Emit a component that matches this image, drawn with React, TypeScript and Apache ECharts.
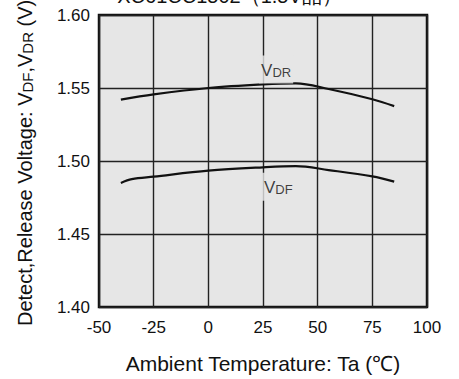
import React, { useEffect, useRef } from "react";
import * as echarts from "echarts";

// Release voltage VDR (V) against ambient temperature (°C)
const tempsDR = [-40, -25, 0, 25, 40, 55, 75, 85];
const vdr = [1.5420, 1.5456, 1.5500, 1.5525, 1.5532, 1.5493, 1.5423, 1.5376];
// Detect voltage VDF (V) against ambient temperature (°C)
const tempsDF = [-40, -35, -25, 0, 25, 40, 55, 75, 85];
const vdf = [1.4850, 1.4876, 1.4893, 1.4934, 1.4957, 1.4965, 1.4938, 1.4895, 1.4859];

const xTicks = [-50, -25, 0, 25, 50, 75, 100];
const yTicks = [1.4, 1.45, 1.5, 1.55, 1.6];

// Curve label anchors [temperature, voltage]
const vdrLabelAt = [31, 1.5626];
const vdfLabelAt = [32, 1.4823];

const FONT = "Liberation Sans, Arial, sans-serif";
const PLOT_BG = "#e6e6e6";
const INK = "#111";

export default function App() {
  const ref = useRef<HTMLDivElement>(null);

  useEffect(() => {
    if (!ref.current) return;
    const chart = echarts.init(ref.current, null, { renderer: "svg" });

    const pairs = (xs: number[], ys: number[]) => xs.map((t, i) => [t, ys[i]]);
    const subRich = {
      v: { fontFamily: FONT, fontSize: 17, color: INK },
      s: { fontFamily: FONT, fontSize: 13, color: INK, verticalAlign: "bottom" as const },
    };
    const curveLabel = (name: string, sub: string, at: number[]) => ({
      type: "scatter" as const,
      data: [at],
      symbolSize: 0,
      silent: true,
      z: 5,
      label: {
        show: true,
        position: "inside" as const,
        formatter: `{v|V}{s|${sub}}`,
        backgroundColor: PLOT_BG,
        padding: [6, 2, 5, 2],
        rich: subRich,
      },
      name,
    });
    const curve = (name: string, xs: number[], ys: number[]) => ({
      type: "line" as const,
      name,
      data: pairs(xs, ys),
      smooth: 0.35,
      showSymbol: false,
      lineStyle: { color: INK, width: 2.2 },
      z: 3,
    });

    chart.setOption({
      animation: false,
      graphic: [
        {
          type: "text",
          left: "center",
          top: -14,
          style: {
            text: "XC61CC1502（1.5V品）",
            fontFamily: FONT,
            fontSize: 20,
            fill: INK,
          },
        },
        {
          // vertical axis title, reading bottom to top
          type: "text",
          x: 25,
          y: 326,
          rotation: Math.PI / 2,
          style: {
            text: "{n|Detect,Release Voltage: V}{s|DF}{n|,V}{s|DR}{n| (V)}",
            align: "left",
            verticalAlign: "middle",
            rich: {
              n: { fontFamily: FONT, fontSize: 20, fill: INK },
              s: { fontFamily: FONT, fontSize: 15, fill: INK, verticalAlign: "bottom" },
            },
          },
        },
      ],
      grid: {
        left: 99,
        right: 32,
        top: 15,
        bottom: 70,
        show: true,
        backgroundColor: PLOT_BG,
        borderColor: INK,
        borderWidth: 2.5,
      },
      xAxis: {
        type: "value",
        min: xTicks[0],
        max: xTicks[xTicks.length - 1],
        interval: 25,
        name: "Ambient Temperature: Ta (℃)",
        nameLocation: "middle",
        nameGap: 46,
        nameTextStyle: { fontFamily: FONT, fontSize: 21, color: INK },
        axisLine: { show: false },
        axisTick: { show: false },
        axisLabel: { fontFamily: FONT, fontSize: 17, color: INK, margin: 12 },
        splitLine: { show: true, lineStyle: { color: "#222", width: 1.4 } },
      },
      yAxis: {
        type: "value",
        min: yTicks[0],
        max: yTicks[yTicks.length - 1],
        interval: 0.05,
        axisLine: { show: false },
        axisTick: { show: false },
        axisLabel: {
          fontFamily: FONT,
          fontSize: 17,
          color: INK,
          margin: 9,
          formatter: (v: number) => v.toFixed(2),
        },
        splitLine: { show: true, lineStyle: { color: "#222", width: 1.4 } },
      },
      series: [
        curve("VDR", tempsDR, vdr),
        curve("VDF", tempsDF, vdf),
        curveLabel("VDR label", "DR", vdrLabelAt),
        curveLabel("VDF label", "DF", vdfLabelAt),
      ],
    });

    return () => chart.dispose();
  }, []);

  return <div ref={ref} style={{ width: 459, height: 379, position: "absolute", left: 0, top: 0 }} />;
}
